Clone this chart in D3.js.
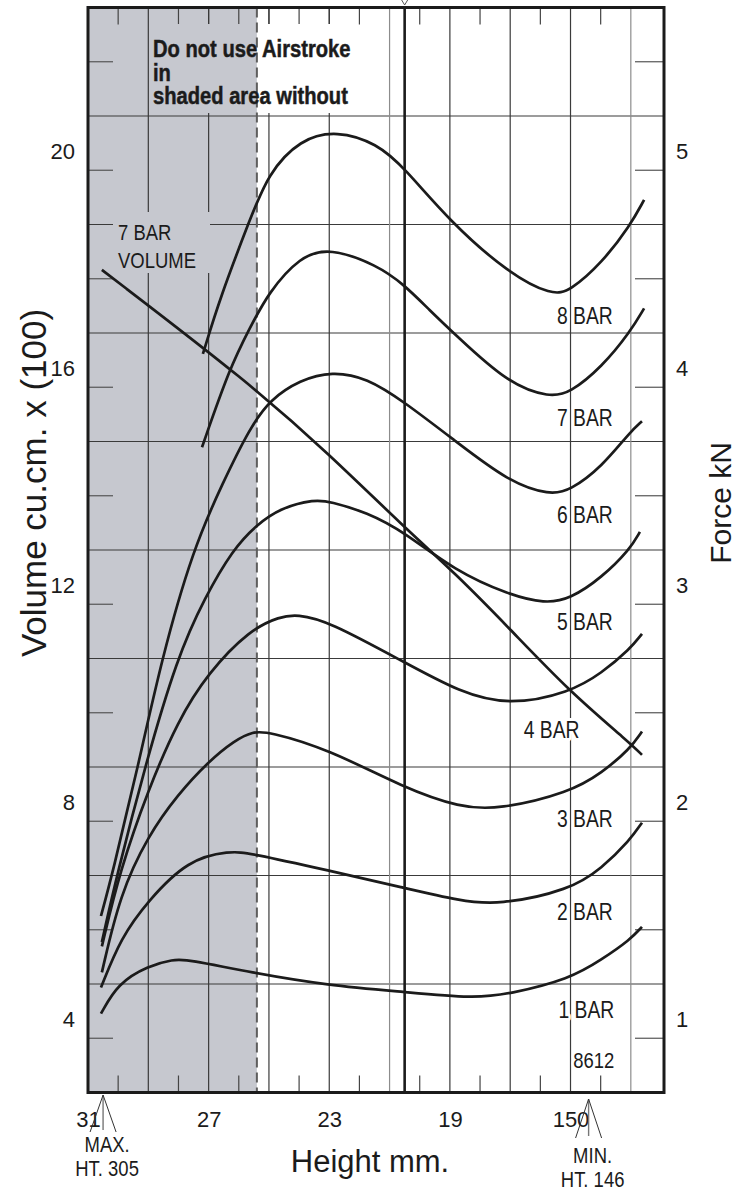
<!DOCTYPE html>
<html>
<head>
<meta charset="utf-8">
<script src="https://cdn.jsdelivr.net/npm/d3@7"></script>
<style>
  body { margin: 0; background: #fff; }
</style>
</head>
<body>
<svg id="chart" width="742" height="1191"></svg>
<script>
// ---------- Data ---------- //

// bottom axis, height in cm (the last tick is printed as 150)
var heightTicks = [31, 27, 23, 19, 15];
var heightTickLabels = ["31", "27", "23", "19", "150"];
var volumeTicks = [4, 8, 12, 16, 20];
var forceTicks = [1, 2, 3, 4, 5];

// force curves: [height cm, force kN]
var bar8 = [[27.19, 4.07], [26.62, 4.33], [25.63, 4.69], [25.03, 4.90], [23.97, 5.06], [22.74, 5.10],
            [21.42, 5.04], [20.52, 4.93], [19.00, 4.68], [17.04, 4.44], [15.61, 4.34], [15.02, 4.36],
            [13.96, 4.49], [13.03, 4.66], [12.56, 4.78]];
var bar7 = [[27.22, 3.64], [26.29, 4.01], [25.63, 4.19], [25.03, 4.35], [23.97, 4.52], [22.98, 4.56],
            [21.42, 4.48], [20.52, 4.39], [19.66, 4.27], [18.83, 4.16], [17.04, 3.93], [15.68, 3.87],
            [15.02, 3.89], [13.96, 4.01], [13.03, 4.17], [12.56, 4.28]];
var bar6 = [[30.57, 1.48], [30.20, 1.67], [29.34, 2.17], [28.55, 2.67], [27.52, 3.17], [26.52, 3.48],
            [25.63, 3.73], [24.96, 3.86], [23.97, 3.95], [22.91, 3.99], [21.75, 3.96], [20.52, 3.85],
            [18.83, 3.67], [17.04, 3.48], [15.68, 3.42], [15.02, 3.44], [13.96, 3.55], [13.03, 3.71],
            [12.63, 3.76]];
var bar5 = [[30.54, 1.36], [30.04, 1.67], [29.11, 2.17], [28.05, 2.67], [27.12, 2.95], [26.19, 3.17],
            [25.43, 3.28], [24.63, 3.36], [23.47, 3.40], [22.98, 3.39], [21.75, 3.34], [20.52, 3.25],
            [18.83, 3.07], [17.04, 2.96], [15.85, 2.92], [15.02, 2.94], [13.96, 3.04], [13.03, 3.17],
            [12.70, 3.25]];
var bar4 = [[30.54, 1.34], [29.94, 1.69], [29.01, 2.06], [28.02, 2.38], [27.02, 2.60], [25.63, 2.80],
            [24.63, 2.86], [24.07, 2.87], [23.04, 2.84], [20.52, 2.65], [18.66, 2.51], [17.04, 2.45],
            [15.02, 2.51], [13.96, 2.60], [13.03, 2.71], [12.63, 2.78]];
var bar3 = [[30.54, 1.22], [29.94, 1.58], [29.01, 1.85], [28.02, 2.04], [27.02, 2.19], [26.13, 2.29],
            [25.53, 2.33], [25.03, 2.33], [23.04, 2.25], [20.52, 2.07], [18.66, 1.98], [17.40, 1.97],
            [15.02, 2.05], [13.96, 2.14], [13.03, 2.25], [12.63, 2.33]];
var bar2 = [[30.57, 1.15], [29.91, 1.38], [29.01, 1.55], [27.68, 1.74], [26.29, 1.78], [25.63, 1.77],
            [23.04, 1.69], [20.52, 1.61], [18.66, 1.55], [17.40, 1.53], [15.02, 1.60], [13.96, 1.70],
            [13.03, 1.83], [12.63, 1.91]];
var bar1 = [[30.57, 1.03], [30.01, 1.17], [29.01, 1.25], [28.18, 1.28], [27.68, 1.28], [25.63, 1.22],
            [23.04, 1.16], [20.52, 1.13], [18.20, 1.10], [17.04, 1.12], [15.02, 1.19], [13.96, 1.28],
            [13.03, 1.37], [12.63, 1.43]];

// 7 bar volume curve: [height cm, volume cu.cm x 100]
var volume7 = [[30.54, 17.83], [25.63, 15.74], [22.98, 14.42], [20.52, 13.09], [18.83, 12.24],
               [17.04, 11.23], [15.02, 10.05], [13.03, 9.11], [12.63, 8.89]];

var barNames = ["8 BAR", "7 BAR", "6 BAR", "5 BAR", "4 BAR", "3 BAR", "2 BAR", "1 BAR"];
var barSeries = [bar8, bar7, bar6, bar5, bar4, bar3, bar2, bar1];

var shadedUpTo = 25.4;     // shaded area boundary
var markerHeight = 20.5;   // heavy vertical line
var maxHeight = 30.5;
var minHeight = 14.4;

// ---------- Layout ---------- //

var svg = d3.select("#chart");
var plotLeft = 88, plotRight = 664, plotTop = 7.5, plotBottom = 1092.5;

var x = d3.scaleLinear().domain([31, 11.9]).range([plotLeft, plotRight]);
var yForce = d3.scaleLinear().domain([2 / 3, 17 / 3]).range([plotBottom, plotTop]);
var yVol = d3.scaleLinear().domain([8 / 3, 68 / 3]).range([plotBottom, plotTop]);

var font = "'Liberation Sans', Arial, sans-serif";
var squeeze = 0.84;   // condensed lettering of the original
var shade = "#c6c8cf";
var ink = "#1b1b1b";

// grid lines: every 0.5 kN row, every 2 cm column
var rowLines = d3.range(1, 10).map(function(k) { return 2 / 3 + k * 0.5; });
var rowTicks = d3.range(0, 10).map(function(k) { return 2 / 3 + k * 0.5 + 0.25; });
var colLines = d3.range(29, 12, -2);
var colTicks = d3.range(30, 13, -2);

// condensed text helper: a text scaled narrower around its anchor
function narrowText(parent, px, py, size, anchor) {
    return parent.append("text")
        .attr("transform", "translate(" + px + "," + py + ") scale(" + squeeze + ",1)")
        .attr("text-anchor", anchor || "start")
        .attr("font-family", font).attr("font-size", size + "px").attr("fill", ink);
}

// ---------- Background ---------- //

svg.append("rect").attr("width", 742).attr("height", 1191).attr("fill", "#fff");
svg.append("rect")
    .attr("x", plotLeft).attr("y", plotTop)
    .attr("width", x(shadedUpTo) - plotLeft).attr("height", plotBottom - plotTop)
    .attr("fill", shade);

// text boxes that knock out the grid
var mask = svg.append("defs").append("mask").attr("id", "gridMask")
    .attr("maskUnits", "userSpaceOnUse")
    .attr("x", 0).attr("y", 0).attr("width", 742).attr("height", 1191);
mask.append("rect").attr("width", 742).attr("height", 1191).attr("fill", "white");
mask.append("rect").attr("x", 150).attr("y", 24).attr("width", 207).attr("height", 89).attr("fill", "black");
mask.append("rect").attr("x", 113).attr("y", 212).attr("width", 97).attr("height", 61).attr("fill", "black");

// ---------- Grid ---------- //

var grid = svg.append("g").attr("mask", "url(#gridMask)");

grid.selectAll(".row").data(rowLines).enter().append("line")
    .attr("x1", plotLeft).attr("x2", plotRight)
    .attr("y1", function(d) { return yForce(d); })
    .attr("y2", function(d) { return yForce(d); })
    .attr("stroke", "#3a3a3a").attr("stroke-width", 1.2);

grid.selectAll(".col").data(colLines).enter().append("line")
    .attr("x1", function(d) { return x(d); })
    .attr("x2", function(d) { return x(d); })
    .attr("y1", plotTop).attr("y2", plotBottom)
    .attr("stroke", function(d) { return (d === 21 || d === 13) ? "#8c8c8c" : "#3a3a3a"; })
    .attr("stroke-width", 1.2);

// short ticks on the four sides
grid.selectAll(".tl").data(rowTicks).enter().append("line")
    .attr("x1", plotLeft).attr("x2", plotLeft + 25)
    .attr("y1", function(d) { return yForce(d); })
    .attr("y2", function(d) { return yForce(d); })
    .attr("stroke", "#555").attr("stroke-width", 1.2);
grid.selectAll(".tr").data(rowTicks).enter().append("line")
    .attr("x1", plotRight - 29).attr("x2", plotRight)
    .attr("y1", function(d) { return yForce(d); })
    .attr("y2", function(d) { return yForce(d); })
    .attr("stroke", "#555").attr("stroke-width", 1.2);
grid.selectAll(".tt").data(colTicks).enter().append("line")
    .attr("x1", function(d) { return x(d); })
    .attr("x2", function(d) { return x(d); })
    .attr("y1", plotTop).attr("y2", plotTop + 17)
    .attr("stroke", "#444").attr("stroke-width", 1.2);
grid.selectAll(".tb").data(colTicks).enter().append("line")
    .attr("x1", function(d) { return x(d); })
    .attr("x2", function(d) { return x(d); })
    .attr("y1", plotBottom - 17).attr("y2", plotBottom)
    .attr("stroke", "#444").attr("stroke-width", 1.2);

// stubs of the grid lines above the notice box stay visible
svg.selectAll(".tt2").data(colLines.filter(function(d) { return d >= 23 && d <= 27; })).enter().append("line")
    .attr("x1", function(d) { return x(d); })
    .attr("x2", function(d) { return x(d); })
    .attr("y1", plotTop).attr("y2", 24)
    .attr("stroke", "#3a3a3a").attr("stroke-width", 1.2);

// shaded area boundary
svg.append("line")
    .attr("x1", x(shadedUpTo)).attr("x2", x(shadedUpTo))
    .attr("y1", plotTop).attr("y2", plotBottom)
    .attr("stroke", "#5e5e5e").attr("stroke-width", 2)
    .attr("stroke-dasharray", "10,5");

// heavy marker line with its small arrow at the top
svg.append("line")
    .attr("x1", x(markerHeight)).attr("x2", x(markerHeight))
    .attr("y1", plotTop).attr("y2", plotBottom)
    .attr("stroke", ink).attr("stroke-width", 2.6);
svg.append("path")
    .attr("d", "M" + (x(markerHeight) - 3) + ",0L" + x(markerHeight) + ",5L" + (x(markerHeight) + 3) + ",0")
    .attr("fill", "none").attr("stroke", "#555").attr("stroke-width", 1);

// ---------- Labels inside the plot ---------- //

["Do not use Airstroke", "in", "shaded area without"].forEach(function(s, i) {
    narrowText(svg, 153, 57 + i * 23.5, 24).attr("font-weight", "bold")
        .attr("stroke", ink).attr("stroke-width", 0.5)
        .text(s);
});

narrowText(svg, 118, 240, 22).text("7 BAR");
narrowText(svg, 118, 268, 22).text("VOLUME");

// curve labels at the right, with a white halo that breaks the grid
var labelEnd = [13.6, 13.6, 13.6, 13.6, 14.7, 13.6, 13.6, 13.55];
var labelForce = [4.21, 3.74, 3.29, 2.80, 2.30, 1.89, 1.46, 1.01];

var labelGroup = svg.append("g");
barNames.forEach(function(name, i) {
    narrowText(labelGroup, x(labelEnd[i]), yForce(labelForce[i]), 23, "end")
        .attr("stroke", "#fff").attr("stroke-width", 6).attr("stroke-linejoin", "round")
        .attr("paint-order", "stroke")
        .text(name);
});
narrowText(labelGroup, x(13.55), yForce(0.78), 22, "end")
    .attr("stroke", "#fff").attr("stroke-width", 6).attr("stroke-linejoin", "round")
    .attr("paint-order", "stroke")
    .text("8612");

// ---------- Curves ---------- //

var forceLine = d3.line()
    .x(function(d) { return x(d[0]); })
    .y(function(d) { return yForce(d[1]); })
    .curve(d3.curveBasis);

var volLine = d3.line()
    .x(function(d) { return x(d[0]); })
    .y(function(d) { return yVol(d[1]); })
    .curve(d3.curveBasis);

svg.append("g").selectAll("path").data(barSeries).enter().append("path")
    .attr("d", forceLine)
    .attr("fill", "none").attr("stroke", ink).attr("stroke-width", 2.7);

svg.append("path").datum(volume7)
    .attr("d", volLine)
    .attr("fill", "none").attr("stroke", ink).attr("stroke-width", 2.7);

// ---------- Frame ---------- //

svg.append("rect")
    .attr("x", plotLeft).attr("y", plotTop)
    .attr("width", plotRight - plotLeft).attr("height", plotBottom - plotTop)
    .attr("fill", "none").attr("stroke", ink).attr("stroke-width", 3);

// ---------- Axes ---------- //

var axisLeft = svg.append("g").attr("transform", "translate(" + plotLeft + ",0)")
    .call(d3.axisLeft(yVol).tickValues(volumeTicks).tickSize(0).tickPadding(13)
        .tickFormat(d3.format("d")));
var axisRight = svg.append("g").attr("transform", "translate(" + plotRight + ",0)")
    .call(d3.axisRight(yForce).tickValues(forceTicks).tickSize(0).tickPadding(12)
        .tickFormat(d3.format("d")));
var axisBottom = svg.append("g").attr("transform", "translate(0," + plotBottom + ")")
    .call(d3.axisBottom(x).tickValues(heightTicks).tickSize(0).tickPadding(19)
        .tickFormat(function(d, i) { return heightTickLabels[i]; }));

[axisLeft, axisRight, axisBottom].forEach(function(ax) {
    ax.select(".domain").remove();
    ax.selectAll("text")
        .attr("font-family", font).attr("font-size", "22px").attr("fill", ink);
});
axisLeft.selectAll("text").attr("dy", "0.3em");
axisRight.selectAll("text").attr("dy", "0.3em");

// MAX / MIN height pointers under the axis
function pointer(h, apexY, armY, lines, textY) {
    var px = x(h);
    var g = svg.append("g");
    g.append("line").attr("x1", px).attr("x2", px).attr("y1", apexY).attr("y2", armY - 2)
        .attr("stroke", "#777").attr("stroke-width", 1.4);
    g.append("path")
        .attr("d", "M" + (px - 13) + "," + armY + "L" + px + "," + apexY + "L" + (px + 13) + "," + armY)
        .attr("fill", "none").attr("stroke", "#333").attr("stroke-width", 1);
    lines.forEach(function(s, i) {
        narrowText(g, px + 4, textY + i * 23.5, 22, "middle").text(s);
    });
}
pointer(maxHeight, 1095, 1132, ["MAX.", "HT. 305"], 1152);
pointer(minHeight, 1099, 1138, ["MIN.", "HT. 146"], 1163);

// ---------- Axis titles ---------- //

svg.append("text")
    .attr("transform", "translate(46,483) rotate(-90)")
    .attr("text-anchor", "middle")
    .attr("font-family", font).attr("font-size", "35px").attr("fill", ink)
    .text("Volume cu.cm. x (100)");

svg.append("text")
    .attr("transform", "translate(731,503) rotate(-90)")
    .attr("text-anchor", "middle")
    .attr("font-family", font).attr("font-size", "30px").attr("fill", ink)
    .text("Force kN");

svg.append("text")
    .attr("x", 370).attr("y", 1172)
    .attr("text-anchor", "middle")
    .attr("font-family", font).attr("font-size", "31px").attr("fill", ink)
    .text("Height mm.");
</script>
</body>
</html>
